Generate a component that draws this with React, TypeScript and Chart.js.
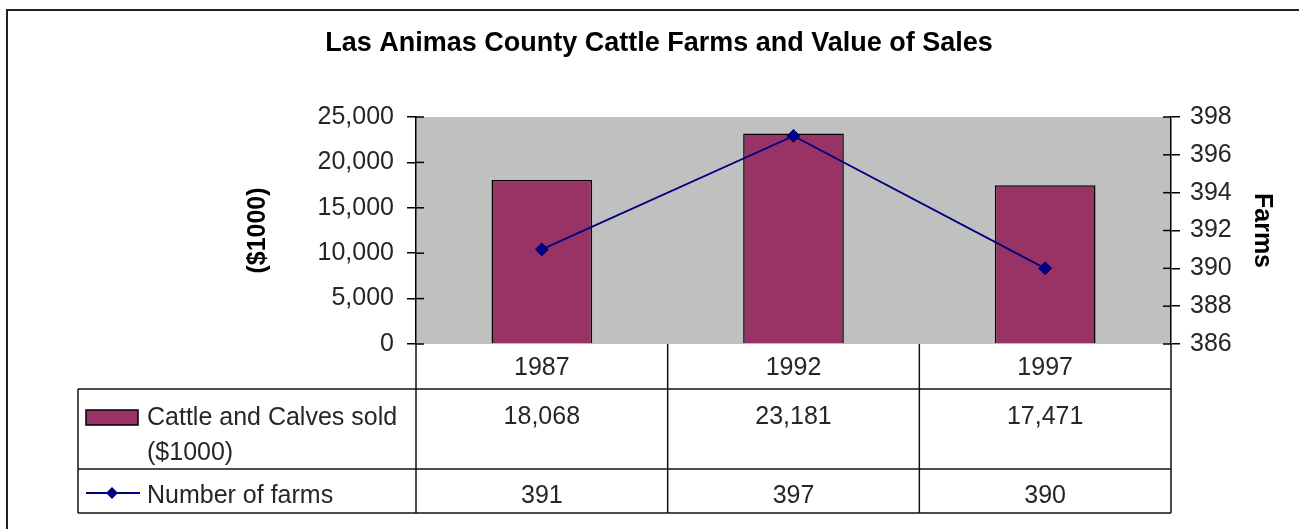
import React, { useEffect, useRef } from "react";
import { Chart, registerables } from "chart.js";

Chart.register(...registerables);

// ---- data ----
const years = ["1987", "1992", "1997"];
const salesValues = [18068, 23181, 17471];
const farmCounts = [391, 397, 390];
const chartTitle = "Las Animas County Cattle Farms and Value of Sales";
const salesLegend = ["Cattle and Calves sold", "($1000)"];
const farmsLegend = "Number of farms";
const leftAxisTitle = "($1000)";
const rightAxisTitle = "Farms";
const salesMin = 0;
const salesMax = 25000;
const salesStep = 5000;
const farmsMin = 386;
const farmsMax = 398;
const farmsStep = 2;

const FONT = "'Liberation Sans', Arial, Helvetica, sans-serif";
const BAR_COLOR = "#993366";
const LINE_COLOR = "#000080";
const TEXT = "#262626";
const fmt = (v: number) => Number(v).toLocaleString("en-US");

const framePlugin = {
  id: "frameAndTable",
  beforeDraw(chart: any) {
    const { ctx, chartArea: a } = chart;
    ctx.save();
    ctx.fillStyle = "#ffffff";
    ctx.fillRect(0, 0, chart.width, chart.height);
    ctx.fillStyle = "#C0C0C0";
    ctx.fillRect(a.left, a.top, a.right - a.left, a.bottom - a.top);
    // outer chart border
    ctx.strokeStyle = "#222";
    ctx.lineWidth = 2;
    ctx.beginPath();
    ctx.moveTo(7, chart.height);
    ctx.lineTo(7, 10);
    ctx.lineTo(chart.width, 10);
    ctx.stroke();
    ctx.restore();
  },
  afterDraw(chart: any) {
    const { ctx, chartArea: a, scales } = chart;
    const ys = scales.y;
    const y1 = scales.y1;
    const xs = scales.x;
    ctx.save();
    ctx.strokeStyle = "#000";
    ctx.lineWidth = 1.5;
    // inner halves of cross tick marks
    ys.ticks.forEach((_: any, i: number) => {
      const py = ys.getPixelForTick(i);
      ctx.beginPath();
      ctx.moveTo(a.left, py);
      ctx.lineTo(a.left + 8, py);
      ctx.stroke();
    });
    y1.ticks.forEach((_: any, i: number) => {
      const py = y1.getPixelForTick(i);
      ctx.beginPath();
      ctx.moveTo(a.right - 8, py);
      ctx.lineTo(a.right, py);
      ctx.stroke();
    });

    // data table
    const n = years.length;
    const edges: number[] = [];
    for (let i = 0; i <= n; i++) edges.push(xs.getPixelForValue(i - 0.5));
    const tableLeft = 78;
    const r0 = a.bottom;
    const r1 = a.bottom + 45;
    const r2 = a.bottom + 125;
    const r3 = a.bottom + 169;
    ctx.strokeStyle = "#111";
    ctx.lineWidth = 1.5;
    const line = (x0: number, y0: number, x1: number, yy1: number) => {
      ctx.beginPath();
      ctx.moveTo(x0, y0);
      ctx.lineTo(x1, yy1);
      ctx.stroke();
    };
    [r1, r2, r3].forEach((ry) => line(tableLeft, ry, edges[n], ry));
    line(tableLeft, r1, tableLeft, r3);
    edges.forEach((ex) => line(ex, r0, ex, r3));

    ctx.fillStyle = TEXT;
    ctx.font = `25px ${FONT}`;
    ctx.textBaseline = "alphabetic";
    ctx.textAlign = "center";
    for (let i = 0; i < n; i++) {
      const cx = xs.getPixelForValue(i);
      ctx.fillText(years[i], cx, r0 + 31);
      ctx.fillText(fmt(salesValues[i]), cx, r1 + 35);
      ctx.fillText(String(farmCounts[i]), cx, r2 + 34);
    }

    // legend keys
    ctx.textAlign = "left";
    ctx.fillStyle = BAR_COLOR;
    ctx.fillRect(86, r1 + 21, 52, 15);
    ctx.strokeStyle = "#000";
    ctx.lineWidth = 1.5;
    ctx.strokeRect(86, r1 + 21, 52, 15);
    ctx.fillStyle = TEXT;
    ctx.fillText(salesLegend[0], 147, r1 + 36);
    ctx.fillText(salesLegend[1], 147, r1 + 71);

    const ly = r2 + 24;
    ctx.strokeStyle = LINE_COLOR;
    ctx.lineWidth = 1.8;
    line(86, ly, 140, ly);
    ctx.fillStyle = LINE_COLOR;
    ctx.beginPath();
    ctx.moveTo(112, ly - 6);
    ctx.lineTo(118, ly);
    ctx.lineTo(112, ly + 6);
    ctx.lineTo(106, ly);
    ctx.closePath();
    ctx.fill();
    ctx.fillStyle = TEXT;
    ctx.fillText(farmsLegend, 147, r2 + 34);
    ctx.restore();
  },
};

export default function App() {
  const ref = useRef<HTMLCanvasElement>(null);
  useEffect(() => {
    document.body.style.margin = "0";
    const chart = new Chart(ref.current as HTMLCanvasElement, {
      type: "bar",
      data: {
        labels: years,
        datasets: [
          {
            type: "line",
            label: farmsLegend,
            data: farmCounts,
            yAxisID: "y1",
            borderColor: LINE_COLOR,
            backgroundColor: LINE_COLOR,
            borderWidth: 1.8,
            pointStyle: "rectRot",
            pointRadius: 6.5,
            pointBackgroundColor: LINE_COLOR,
            pointBorderColor: LINE_COLOR,
            pointBorderWidth: 1,
            tension: 0,
            order: 0,
          } as any,
          {
            type: "bar",
            label: salesLegend.join(" "),
            data: salesValues,
            yAxisID: "y",
            backgroundColor: BAR_COLOR,
            borderColor: "#000",
            borderWidth: 1.5,
            barPercentage: 0.4,
            categoryPercentage: 1,
            order: 1,
          } as any,
        ],
      },
      options: {
        responsive: false,
        animation: false,
        devicePixelRatio: 1,
        layout: { padding: { left: 19, right: 0, top: 0, bottom: 185 } },
        plugins: {
          legend: { display: false },
          tooltip: { enabled: false },
          title: {
            display: true,
            text: chartTitle,
            color: "#000",
            font: { family: FONT, size: 27, weight: "bold" },
            padding: { top: 27.8, bottom: 56.8 },
          },
        },
        scales: {
          x: { display: false, offset: true },
          y: {
            position: "left",
            min: salesMin,
            max: salesMax,
            ticks: {
              stepSize: salesStep,
              callback: (v: any) => fmt(v),
              font: { family: FONT, size: 25 },
              color: TEXT,
              padding: 13,
            },
            grid: { drawOnChartArea: false, tickLength: 9, color: "#000", lineWidth: 1.5 },
            border: { color: "#000", width: 1.5 },
            title: {
              display: true,
              text: leftAxisTitle,
              color: "#000",
              font: { family: FONT, size: 25, weight: "bold" },
              padding: { top: 224, bottom: 0 },
            },
            afterFit: (s: any) => {
              s.width = 397;
            },
          },
          y1: {
            position: "right",
            min: farmsMin,
            max: farmsMax,
            ticks: {
              stepSize: farmsStep,
              font: { family: FONT, size: 25 },
              color: TEXT,
              padding: 10,
            },
            grid: { drawOnChartArea: false, tickLength: 9, color: "#000", lineWidth: 1.5 },
            border: { color: "#000", width: 1.5 },
            title: {
              display: true,
              text: rightAxisTitle,
              color: "#000",
              font: { family: FONT, size: 25, weight: "bold" },
              padding: { top: 22, bottom: 0 },
            },
            afterFit: (s: any) => {
              s.width = 128;
            },
          },
        },
      } as any,
      plugins: [framePlugin],
    });
    return () => chart.destroy();
  }, []);
  return (
    <div style={{ width: 1299, height: 529 }}>
      <canvas ref={ref} width={1299} height={529} style={{ display: "block" }} />
    </div>
  );
}
